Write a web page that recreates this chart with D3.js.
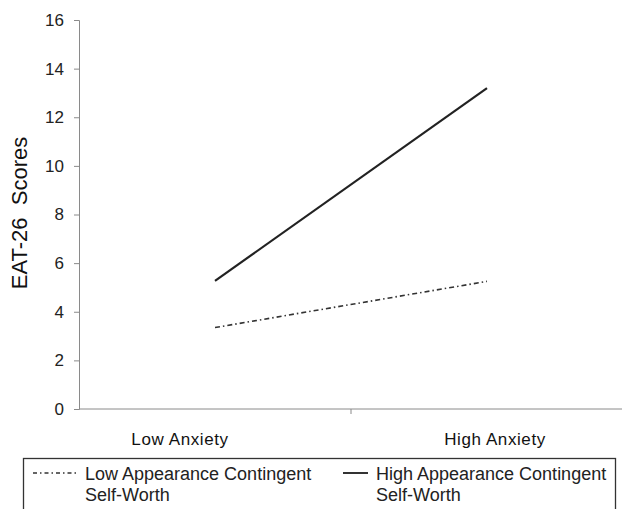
<!DOCTYPE html>
<html>
<head>
<meta charset="utf-8">
<script src="https://cdn.jsdelivr.net/npm/d3@7"></script>
<style>
  body { margin: 0; background: #fff; }
  svg { font-family: "Liberation Sans", Arial, sans-serif; }
</style>
</head>
<body>
<svg id="chart" width="622" height="509"></svg>
<script>
// data
const categories = ['Low Anxiety', 'High Anxiety'];
const lowACSW = [3.35, 5.25];
const highACSW = [5.27, 13.2];
const yTicks = [0, 2, 4, 6, 8, 10, 12, 14, 16];
const seriesNames = ['Low Appearance Contingent\nSelf-Worth', 'High Appearance Contingent\nSelf-Worth'];

const svg = d3.select('#chart');

const y = d3.scaleLinear().domain([0, 16]).range([409, 20]);
// category bands: the plot runs past the right edge of the picture
const xBand = d3.scaleBand().domain(categories).range([79, 623]);
const xMid = d => xBand(d) + xBand.bandwidth() / 2;
// labels sit off the band centres in the original
const xLabel = d3.scalePoint().domain(categories).range([180, 495]);

// y axis
const yAxis = svg.append('g')
  .attr('transform', 'translate(79,0)')
  .call(d3.axisLeft(y).tickValues(yTicks).tickSize(5).tickPadding(10));
yAxis.select('.domain').attr('stroke', '#8a8a8a');
yAxis.selectAll('.tick line').attr('stroke', '#8a8a8a');
yAxis.selectAll('.tick text').attr('font-size', 17).attr('fill', '#222');

// x axis line + separator tick between the categories
svg.append('line')
  .attr('x1', 79).attr('x2', 622)
  .attr('y1', y(0)).attr('y2', y(0))
  .attr('stroke', '#8a8a8a');
svg.selectAll('.xtick')
  .data(categories.slice(1))
  .enter().append('line')
  .attr('x1', d => xBand(d))
  .attr('x2', d => xBand(d))
  .attr('y1', y(0)).attr('y2', y(0) + 5)
  .attr('stroke', '#8a8a8a');

svg.selectAll('.xlabel')
  .data(categories)
  .enter().append('text')
  .attr('x', d => xLabel(d))
  .attr('y', 445)
  .attr('text-anchor', 'middle')
  .attr('font-size', 17)
  .attr('letter-spacing', 0.6)
  .attr('fill', '#111')
  .text(d => d);

// y title
svg.append('text')
  .attr('transform', 'translate(27,213) rotate(-90)')
  .attr('text-anchor', 'middle')
  .attr('font-size', 22)
  .attr('fill', '#111')
  .style('white-space', 'pre')
  .text('EAT-26  Scores');

const line = d3.line()
  .x((d, i) => xMid(categories[i]))
  .y(d => y(d));

svg.append('path')
  .datum(lowACSW)
  .attr('d', line)
  .attr('fill', 'none')
  .attr('stroke', '#333')
  .attr('stroke-width', 1.6)
  .attr('stroke-dasharray', '5,3,1.5,3');

svg.append('path')
  .datum(highACSW)
  .attr('d', line)
  .attr('fill', 'none')
  .attr('stroke', '#222')
  .attr('stroke-width', 2.2);

// legend
svg.append('rect')
  .attr('x', 23.5).attr('y', 458.5)
  .attr('width', 592).attr('height', 60)
  .attr('fill', 'none')
  .attr('stroke', '#333')
  .attr('stroke-width', 1.3);

const legendItems = [
  { name: seriesNames[0], x1: 33, x2: 77, tx: 85, dash: '4,3,1.5,3', w: 1.4 },
  { name: seriesNames[1], x1: 343, x2: 368, tx: 376, dash: null, w: 2 }
];
legendItems.forEach(it => {
  svg.append('line')
    .attr('x1', it.x1).attr('x2', it.x2)
    .attr('y1', 473).attr('y2', 473)
    .attr('stroke', '#333')
    .attr('stroke-width', it.w)
    .attr('stroke-dasharray', it.dash);
  const t = svg.append('text')
    .attr('font-size', 18)
    .attr('fill', '#222');
  it.name.split('\n').forEach((s, i) => {
    t.append('tspan').attr('x', it.tx).attr('y', 480 + i * 21).text(s);
  });
});
</script>
</body>
</html>
